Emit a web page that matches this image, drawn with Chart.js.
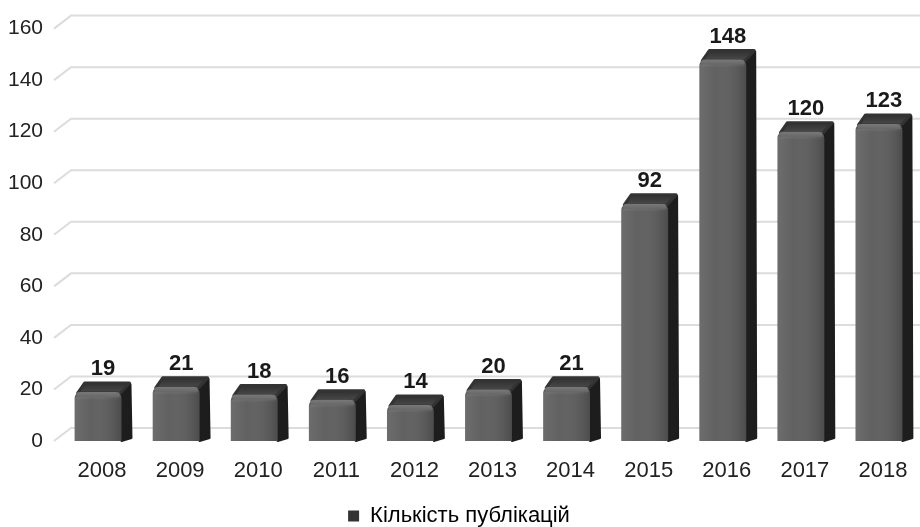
<!DOCTYPE html>
<html>
<head>
<meta charset="utf-8">
<script src="https://cdn.jsdelivr.net/npm/chart.js@4.4.1/dist/chart.umd.min.js"></script>
<style>
  html, body { margin: 0; padding: 0; background: #fff; }
  #wrap { width: 920px; height: 527px; position: relative; }
</style>
</head>
<body>
<div id="wrap"><canvas id="chart"></canvas></div>
<script>
// data
var YEARS = ['2008', '2009', '2010', '2011', '2012', '2013', '2014', '2015', '2016', '2017', '2018'];
var COUNTS = [19, 21, 18, 16, 14, 20, 21, 92, 148, 120, 123];
var SERIES_LABEL = 'Кількість публікацій';
var Y_MIN = 0, Y_MAX = 160, Y_STEP = 20;

var FONT = "'Liberation Sans', Arial, sans-serif";
var DEPTH = 10;                 // bar depth (side/top faces)
var WALL_DX = 17, WALL_DY = 13; // back wall offset for the grid

// fake 3D: back-wall grid, bar tops/sides, value labels
var bars3d = {
  id: 'bars3d',
  beforeDatasetsDraw: function (chart) {
    var c = chart.ctx, a = chart.chartArea, y = chart.scales.y;
    c.save();
    c.strokeStyle = '#dcdcdc';
    c.lineWidth = 2;
    y.ticks.forEach(function (t) {
      var yf = y.getPixelForValue(t.value);
      c.beginPath();
      c.moveTo(a.left - 5, yf);
      c.lineTo(a.left - 5 + WALL_DX, yf - WALL_DY);
      c.lineTo(a.right + 10, yf - WALL_DY);
      c.stroke();
    });
    var meta = chart.getDatasetMeta(0);
    c.lineJoin = 'round';
    meta.data.forEach(function (b) {
      var xl = b.x - b.width / 2, xr = b.x + b.width / 2, top = b.y, base = b.base;
      // side
      c.fillStyle = '#1d1d1d';
      c.strokeStyle = '#1d1d1d';
      c.lineWidth = 2;
      c.beginPath();
      c.moveTo(xr - 2, top);
      c.lineTo(xr + DEPTH - 1, top - DEPTH + 2);
      c.lineTo(xr + DEPTH, base - 3);
      c.lineTo(xr, base);
      c.closePath();
      c.fill(); c.stroke();
      // top
      var g = c.createLinearGradient(0, top - DEPTH, 0, top);
      g.addColorStop(0, '#2e2e2e');
      g.addColorStop(1, '#474747');
      c.fillStyle = g;
      c.strokeStyle = '#333';
      c.lineWidth = 3;
      c.beginPath();
      c.moveTo(xl + 3, top + 1);
      c.lineTo(xl + DEPTH, top - DEPTH + 1);
      c.lineTo(xr + DEPTH - 2, top - DEPTH + 1);
      c.lineTo(xr - 1, top + 1);
      c.closePath();
      c.fill(); c.stroke();
    });
    c.restore();
  },
  afterDatasetsDraw: function (chart) {
    var c = chart.ctx;
    var meta = chart.getDatasetMeta(0);
    c.save();
    meta.data.forEach(function (b, i) {
      var xl = b.x - b.width / 2, xr = b.x + b.width / 2;
      // soft shading on the front face
      var g = c.createLinearGradient(xl, 0, xr, 0);
      g.addColorStop(0, 'rgba(255,255,255,0.10)');
      g.addColorStop(0.35, 'rgba(255,255,255,0.03)');
      g.addColorStop(1, 'rgba(0,0,0,0.18)');
      c.fillStyle = g;
      c.fillRect(xl, b.y + 5, b.width, b.base - b.y - 5);
      var h = c.createLinearGradient(0, b.y, 0, b.y + 8);
      h.addColorStop(0, 'rgba(255,255,255,0.18)');
      h.addColorStop(1, 'rgba(255,255,255,0)');
      c.fillStyle = h;
      c.fillRect(xl + 2, b.y, b.width - 4, 8);

      c.fillStyle = '#1a1a1a';
      c.font = 'bold 22px ' + FONT;
      c.textAlign = 'center';
      c.textBaseline = 'middle';
      c.fillText(String(COUNTS[i]), b.x + 5, b.y - 23);
    });
    c.restore();
  }
};

new Chart(document.getElementById('chart'), {
  type: 'bar',
  data: {
    labels: YEARS,
    datasets: [{
      label: SERIES_LABEL,
      data: COUNTS,
      backgroundColor: '#5c5c5c',
      borderWidth: 0,
      borderRadius: { topLeft: 6, topRight: 6 },
      borderSkipped: 'bottom',
      categoryPercentage: 1,
      barPercentage: 0.6
    }]
  },
  options: {
    responsive: true, maintainAspectRatio: false,
    animation: false,
    layout: { padding: { top: 25, right: 2, left: 0, bottom: -10 } },
    plugins: {
      tooltip: { enabled: false },
      legend: {
        position: 'bottom',
        labels: {
          color: '#222',
          font: { family: FONT, size: 22 },
          usePointStyle: true, pointStyle: 'rect',
          boxWidth: 11, boxHeight: 11, padding: 2,
          generateLabels: function (chart) {
            return [{ text: SERIES_LABEL, fillStyle: '#333', strokeStyle: '#333',
              lineWidth: 0, pointStyle: 'rect', datasetIndex: 0 }];
          }
        }
      }
    },
    scales: {
      x: {
        grid: { display: false }, border: { display: false },
        ticks: { color: '#222', font: { family: FONT, size: 22 }, padding: 9, labelOffset: 4, maxRotation: 0 },
        afterFit: function (s) { s.height = 62; }
      },
      y: {
        min: Y_MIN, max: Y_MAX,
        grid: { display: false, drawTicks: false }, border: { display: false },
        ticks: { stepSize: Y_STEP, color: '#222', font: { family: FONT, size: 21 }, padding: 16 },
        afterFit: function (s) { s.width = 59; }
      }
    }
  },
  plugins: [bars3d]
});
</script>
</body>
</html>
